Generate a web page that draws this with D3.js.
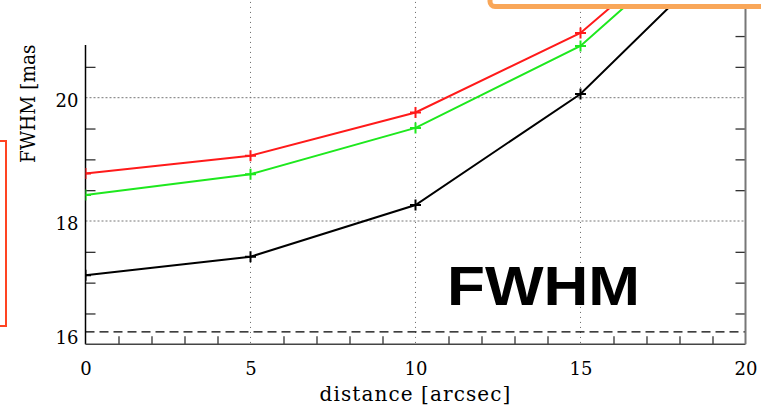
<!DOCTYPE html>
<html><head><meta charset="utf-8">
<script src="https://cdn.jsdelivr.net/npm/d3@7"></script>
<style>html,body{margin:0;padding:0;background:#fff}svg{display:block}</style>
</head><body>
<script>
// FWHM versus distance from the guide star, three configurations
const distance   = [0, 5, 10, 15, 20];
const fwhmRed    = [18.77, 19.06, 19.76, 21.05, 23.34];
const fwhmGreen  = [18.42, 18.76, 19.51, 20.84, 23.21];
const fwhmBlack  = [17.12, 17.42, 18.26, 20.06, 22.68];
const xTickValues = [0, 5, 10, 15, 20];
const xTickLabels = ["0", "5", "10", "15", "20"];
const yTickValues = [16, 18, 20];
const yTickLabels = ["16", "18", "20"];
const referenceLevel = 16.2;
const xTitle = "distance [arcsec]";
const yTitle = "FWHM [mas]";
const stampText = "FWHM";

const W = 761, H = 409;
const plot = {left: 85.5, right: 745.5, bottom: 344.3};
const yMin = 16, yMax = 23.5, pxPerUnit = 61.65;
plot.top = plot.bottom - (yMax - yMin) * pxPerUnit;

const x = d3.scaleLinear().domain([0, 20]).range([plot.left, plot.right]);
const y = d3.scaleLinear().domain([yMin, yMax]).range([plot.bottom, plot.top]);

const svg = d3.select("body").append("svg").attr("width", W).attr("height", H);
svg.append("rect").attr("width", W).attr("height", H).attr("fill", "#fff");

svg.append("clipPath").attr("id", "plotClip").append("rect")
  .attr("x", plot.left).attr("y", plot.top)
  .attr("width", plot.right - plot.left).attr("height", plot.bottom - plot.top);

// dotted grid at the labelled ticks
const grid = svg.append("g");
grid.selectAll("line.vg").data(xTickValues.filter(v => v > 0 && v < 20)).join("line")
  .attr("x1", d => x(d)).attr("x2", d => x(d))
  .attr("y1", plot.top).attr("y2", plot.bottom)
  .attr("stroke", "#666").attr("stroke-width", 1).attr("stroke-dasharray", "1,4");
grid.selectAll("line.hg").data(yTickValues.filter(v => v > yMin)).join("line")
  .attr("x1", plot.left).attr("x2", plot.right)
  .attr("y1", d => y(d)).attr("y2", d => y(d))
  .attr("stroke", "#777").attr("stroke-width", 1).attr("stroke-dasharray", "2,2");

// dashed reference level
svg.append("line")
  .attr("x1", plot.left).attr("x2", plot.right)
  .attr("y1", y(referenceLevel)).attr("y2", y(referenceLevel))
  .attr("stroke", "#000").attr("stroke-width", 1.2).attr("stroke-dasharray", "9,5");

// minor ticks
const xMinor = d3.range(0, 21, 1).filter(v => v % 5 !== 0);
const yMinor = d3.range(16, 23.5, 0.5).filter(v => v % 2 !== 0);

svg.append("g").attr("transform", `translate(0,${plot.bottom})`)
  .call(d3.axisBottom(x).tickValues(xMinor).tickSize(-8).tickFormat(""))
  .call(g => g.select(".domain").remove())
  .call(g => g.selectAll("line").attr("stroke", "#333").attr("stroke-width", 1.3));
svg.append("g").attr("transform", `translate(${plot.left},0)`)
  .call(d3.axisLeft(y).tickValues(yMinor).tickSize(-10).tickFormat(""))
  .call(g => g.select(".domain").remove())
  .call(g => g.selectAll("line").attr("stroke", "#333").attr("stroke-width", 1.3));
svg.append("g").attr("transform", `translate(${plot.right},0)`)
  .call(d3.axisRight(y).tickValues(yMinor).tickSize(-10).tickFormat(""))
  .call(g => g.select(".domain").remove())
  .call(g => g.selectAll("line").attr("stroke", "#333").attr("stroke-width", 1.3));

// axis frame lines
svg.append("line").attr("x1", plot.left).attr("x2", plot.left)
  .attr("y1", plot.top).attr("y2", plot.bottom).attr("stroke", "#000").attr("stroke-width", 1.5);
svg.append("line").attr("x1", plot.left).attr("x2", plot.right)
  .attr("y1", plot.bottom).attr("y2", plot.bottom).attr("stroke", "#444").attr("stroke-width", 1.5);
svg.append("line").attr("x1", plot.right).attr("x2", plot.right)
  .attr("y1", plot.top).attr("y2", plot.bottom).attr("stroke", "#777").attr("stroke-width", 2);

// tick labels
const serif = "'DejaVu Serif', serif";
svg.append("g").attr("transform", `translate(0,${plot.bottom})`)
  .call(d3.axisBottom(x).tickValues(xTickValues).tickSize(0)
    .tickFormat((d, i) => xTickLabels[i]))
  .call(g => g.select(".domain").remove())
  .call(g => g.selectAll("text").attr("y", 31).attr("dy", 0)
    .attr("font-family", serif).attr("font-size", 18).attr("fill", "#000"));
svg.append("g").attr("transform", `translate(${plot.left},0)`)
  .call(d3.axisLeft(y).tickValues(yTickValues).tickSize(0)
    .tickFormat((d, i) => yTickLabels[i]))
  .call(g => g.select(".domain").remove())
  .call(g => g.selectAll("text")
    .attr("x", -7).attr("dy", 0)
    .attr("y", d => Math.min(8.5, plot.bottom - y(d) - 0.5))
    .attr("font-family", serif).attr("font-size", 18).attr("fill", "#000"));

// axis titles
svg.append("text").attr("x", (plot.left + plot.right) / 2).attr("y", 401)
  .attr("text-anchor", "middle").attr("font-family", serif).attr("font-size", 20)
  .attr("letter-spacing", 1.1).attr("fill", "#000").text(xTitle);
svg.append("text").attr("transform", "translate(35,163) rotate(-90) scale(0.93,1)")
  .attr("font-family", serif).attr("font-size", 20).attr("fill", "#000").text(yTitle);

// series
const series = [
  {values: fwhmBlack, color: "#000"},
  {values: fwhmGreen, color: "#1ee81e"},
  {values: fwhmRed,   color: "#ff1a1a"}
];
const line = d3.line().x(d => x(d[0])).y(d => y(d[1]));
const body = svg.append("g").attr("clip-path", "url(#plotClip)");
series.forEach(s => {
  const pts = distance.map((d, i) => [d, s.values[i]]);
  body.append("path").datum(pts).attr("d", line)
    .attr("fill", "none").attr("stroke", s.color).attr("stroke-width", 2);
  body.selectAll(null).data(pts).join("path")
    .attr("transform", d => `translate(${x(d[0])},${y(d[1])})`)
    .attr("d", "M-5.5,0H5.5M0,-5.5V5.5")
    .attr("stroke", s.color).attr("stroke-width", 2).attr("fill", "none");
});

// covering panel at the upper left
svg.append("rect").attr("x", 0).attr("y", 0).attr("width", 200).attr("height", 45).attr("fill", "#fff");

// outlined boxes at the edges
svg.append("rect").attr("x", 490).attr("y", -60).attr("width", 320).attr("height", 66.5)
  .attr("rx", 5).attr("fill", "#fff").attr("stroke", "#f9a759").attr("stroke-width", 5);
svg.append("rect").attr("x", -60).attr("y", 141).attr("width", 66).attr("height", 185)
  .attr("fill", "none").attr("stroke", "#ff4422").attr("stroke-width", 2);

// large label
svg.append("text").attr("x", 447).attr("y", 305)
  .attr("font-family", "'Liberation Sans', Arial, sans-serif").attr("font-weight", "bold")
  .attr("font-size", 56).attr("textLength", 193).attr("lengthAdjust", "spacingAndGlyphs")
  .attr("fill", "#000").text(stampText);
</script>
</body></html>
